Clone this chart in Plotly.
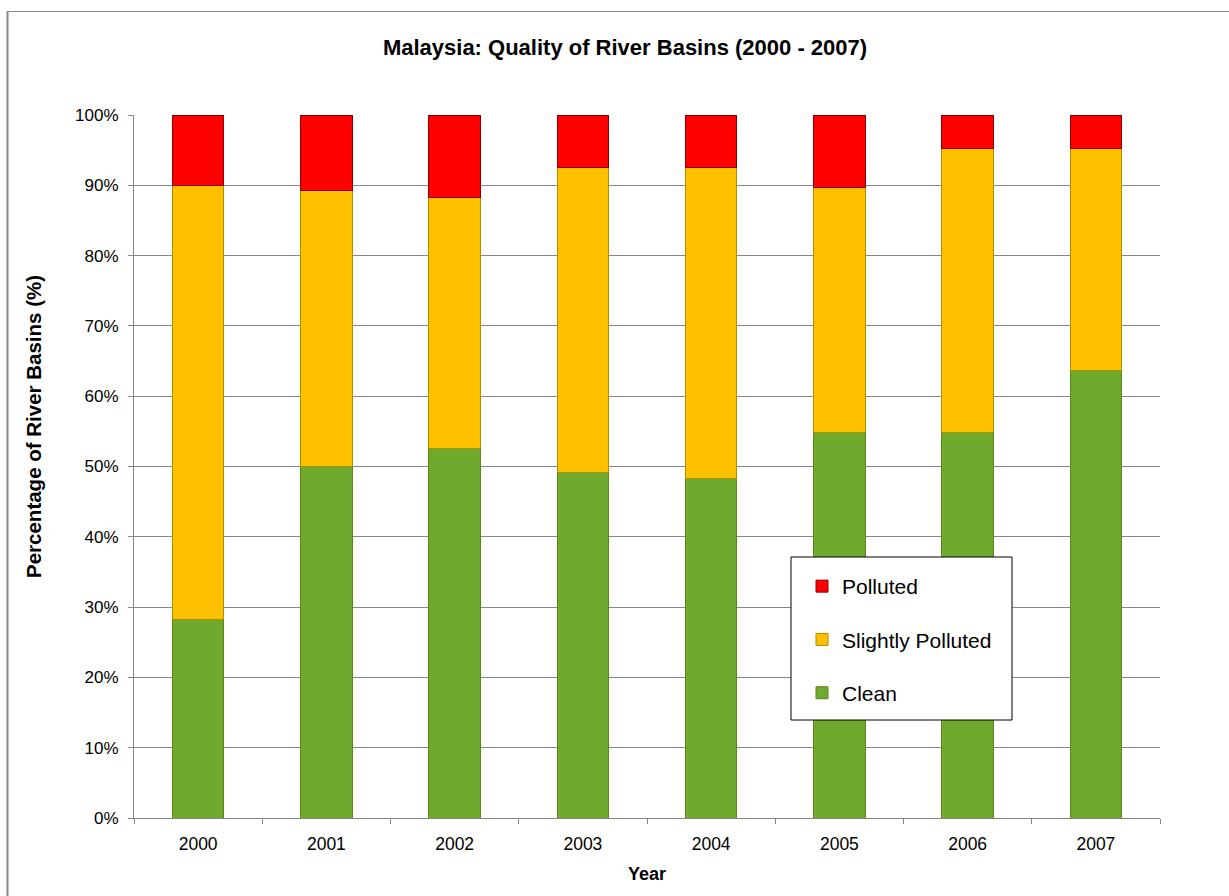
import plotly.graph_objects as go

years = ["2000", "2001", "2002", "2003", "2004", "2005", "2006", "2007"]
clean = [28.3, 50.0, 52.5, 49.2, 48.3, 54.8, 54.8, 63.7]
slightly_polluted = [61.7, 39.2, 35.8, 43.3, 44.2, 34.9, 40.4, 31.5]
polluted = [10.0, 10.8, 11.7, 7.5, 7.5, 10.3, 4.8, 4.8]
y_ticks = [0, 10, 20, 30, 40, 50, 60, 70, 80, 90, 100]
y_tick_labels = [f"{v}%" for v in y_ticks]

FONT = "Arial, Liberation Sans, sans-serif"

fig = go.Figure()
fig.add_trace(go.Bar(x=years, y=clean, name="Clean", legendgroup="c", legendrank=3,
                     marker=dict(color="#6FA92E", line=dict(color="#5E8218", width=1))))
fig.add_trace(go.Bar(x=years, y=slightly_polluted, name="Slightly Polluted", legendgroup="s", legendrank=2,
                     marker=dict(color="#FFC000", line=dict(color="#A89000", width=1))))
fig.add_trace(go.Bar(x=years, y=polluted, name="Polluted", legendgroup="p", legendrank=1,
                     marker=dict(color="#FF0000", line=dict(color="#8A0000", width=1))))

W, H = 1229, 896
L, R, T, B = 134, 1160, 115, 818
pw, ph = R - L, B - T

def px(x):
    return (x - L) / pw

def py(y):
    return (B - y) / ph

fig.update_layout(
    width=W, height=H,
    margin=dict(l=L, r=W - R, t=T, b=H - B),
    barmode="stack", bargap=0.6,
    paper_bgcolor="white", plot_bgcolor="white",
    font=dict(family=FONT, size=17, color="black"),
    title=dict(text="<b>Malaysia: Quality of River Basins (2000 - 2007)</b>",
               x=625 / W, xanchor="center", y=1 - 47 / H, yanchor="middle",
               xref="container",
               font=dict(family=FONT, size=22, color="black")),
    showlegend=True,
    legend=dict(x=px(802), y=py(566), xanchor="left", yanchor="top",
                bgcolor="rgba(0,0,0,0)", borderwidth=0,
                traceorder="grouped", tracegroupgap=23,
                font=dict(family=FONT, size=21, color="black")),
    xaxis=dict(showline=True, linecolor="#868686", linewidth=1,
               ticks="outside", ticklen=5, tickcolor="#868686", tickson="boundaries",
               showgrid=False, tickfont=dict(size=17.5), ticklabelstandoff=10,
               title=dict(text="<b>Year</b>", font=dict(size=18), standoff=14)),
    yaxis=dict(range=[0, 100], tickvals=y_ticks, ticktext=y_tick_labels,
               showline=True, linecolor="#868686", linewidth=1,
               ticks="outside", ticklen=5, tickcolor="#868686",
               showgrid=True, gridcolor="#868686", gridwidth=1,
               zeroline=False, tickfont=dict(size=17), ticklabelstandoff=6),
    annotations=[
        dict(text="<b>Percentage of River Basins (%)</b>", textangle=-90,
             xref="paper", yref="paper", x=px(33), y=py(427),
             xanchor="center", yanchor="middle", showarrow=False,
             font=dict(family=FONT, size=20.5, color="black")),
    ],
    shapes=[
        dict(type="rect", xref="paper", yref="paper",
             x0=px(791), x1=px(1012), y0=py(720), y1=py(557),
             line=dict(color="black", width=1), fillcolor="white", layer="above"),
        dict(type="line", xref="paper", yref="paper",
             x0=px(7.5), x1=px(7.5), y0=py(11), y1=py(900),
             line=dict(color="#888888", width=2)),
        dict(type="line", xref="paper", yref="paper",
             x0=px(7), x1=px(1235), y0=py(11.5), y1=py(11.5),
             line=dict(color="#888888", width=1)),
    ],
)

fig.write_html("out.html")
